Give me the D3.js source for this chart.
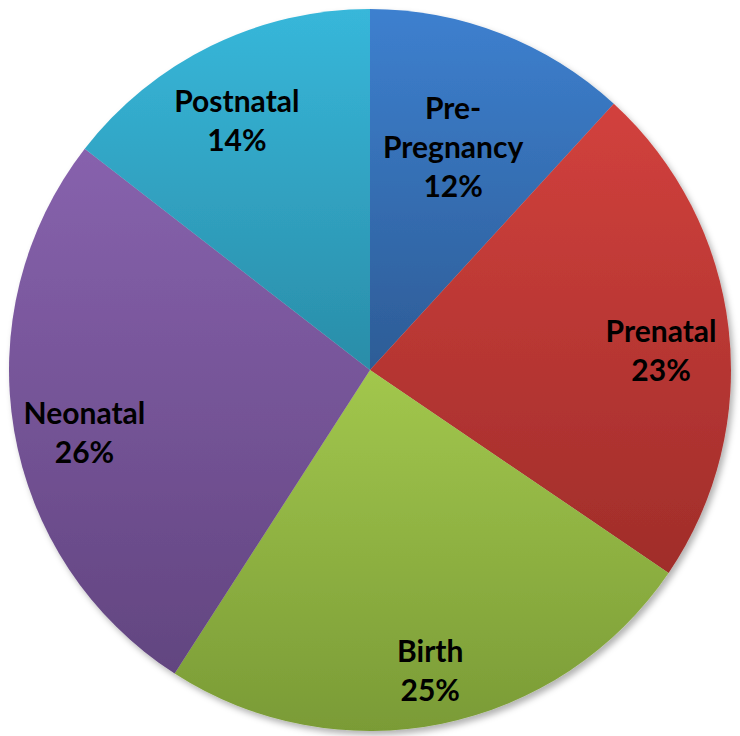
<!DOCTYPE html>
<html>
<head>
<meta charset="utf-8">
<script src="https://cdn.jsdelivr.net/npm/d3@7"></script>
<style>
  body { margin: 0; background: #fff; }
  .lbl { font-family: Lato, "Open Sans", sans-serif; font-weight: 700; font-size: 30px; fill: #000; }
</style>
</head>
<body>
<div id="pie-chart"></div>
<script>
var categories = ["Pre-Pregnancy", "Prenatal", "Birth", "Neonatal", "Postnatal"];
var labelLines = [["Pre-", "Pregnancy"], ["Prenatal"], ["Birth"], ["Neonatal"], ["Postnatal"]];
var values = [11.8, 22.7, 24.6, 26.4, 14.5];
var pctLabels = ["12%", "23%", "25%", "26%", "14%"];

(function piechart() {
  var width = 740, height = 736;
  var cx = 370, cy = 370, radius = 361;

  // top / bottom shade of each slice gradient
  var topColors = ["#3d80cf", "#d2413d", "#a2c74d", "#8762ad", "#37b7da"];
  var botColors = ["#2d5c96", "#a02d2a", "#7a9b36", "#624580", "#2a8da8"];
  // label placement: share of radius, and nudge off the mid angle (degrees)
  var labelR = [0.659, 0.808, 0.85, 0.81, 0.783];
  var labelNudge = [-0.8, 2.9, 0.2, -2.7, -2];

  var svg = d3.select("#pie-chart").append("svg")
    .attr("width", width)
    .attr("height", height);

  var defs = svg.append("defs");

  defs.append("filter")
    .attr("id", "shadow")
    .attr("x", "-5%").attr("y", "-5%")
    .attr("width", "115%").attr("height", "115%")
    .append("feDropShadow")
    .attr("dx", 3).attr("dy", 4)
    .attr("stdDeviation", 3)
    .attr("flood-color", "#000")
    .attr("flood-opacity", 0.3);

  categories.forEach(function(c, i) {
    var grad = defs.append("linearGradient")
      .attr("id", "grad" + i)
      .attr("x1", 0).attr("y1", 0)
      .attr("x2", 0).attr("y2", 1);
    grad.append("stop").attr("offset", "0%").attr("stop-color", topColors[i]);
    grad.append("stop").attr("offset", "100%").attr("stop-color", botColors[i]);
  });

  var pie = d3.pie()
    .sort(null)
    .value(function(d) { return d; });

  var arcs = pie(values);

  var arc = d3.arc()
    .innerRadius(0)
    .outerRadius(radius);

  var g = svg.append("g")
    .attr("transform", "translate(" + cx + "," + cy + ")");

  g.append("g")
    .attr("filter", "url(#shadow)")
    .selectAll("path")
    .data(arcs)
    .enter()
    .append("path")
    .attr("d", arc)
    .attr("fill", function(d, i) { return "url(#grad" + i + ")"; });

  var lineH = 39;

  arcs.forEach(function(d, i) {
    var r = radius * labelR[i];
    var a = (d.startAngle + d.endAngle) / 2 + labelNudge[i] * Math.PI / 180;
    var x = r * Math.sin(a), y = -r * Math.cos(a);
    var lines = labelLines[i].concat([pctLabels[i]]);
    var t = g.append("text")
      .attr("class", "lbl")
      .attr("text-anchor", "middle")
      .attr("transform", "translate(" + x + "," + y + ")");
    lines.forEach(function(s, k) {
      t.append("tspan")
        .attr("x", 0)
        .attr("y", (k - (lines.length - 1) / 2) * lineH)
        .attr("dy", "0.35em")
        .text(s);
    });
  });
})();
</script>
</body>
</html>
